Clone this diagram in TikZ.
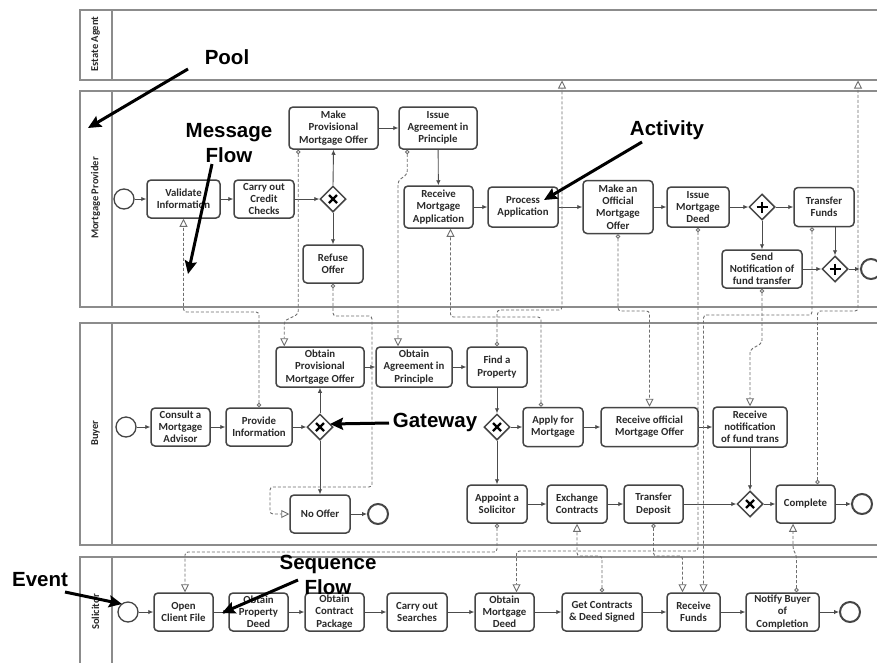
\documentclass[tikz,border=0pt]{standalone}
\usepackage{fontspec}
\setmainfont{Carlito}
\newfontfamily\calloutfont{Liberation Sans}
\usetikzlibrary{arrows.meta,shapes.geometric,calc}

\definecolor{taskline}{HTML}{454545}
\definecolor{tasktext}{HTML}{2A2A2A}
\definecolor{seqline}{HTML}{4C4C4C}
\definecolor{msgline}{HTML}{6E6E6E}
\definecolor{poolline}{HTML}{8C8C8C}

\tikzset{
  pool/.style={draw=poolline, line width=1.5pt, inner sep=0pt, anchor=north west},
  poolsep/.style={draw=poolline, line width=1.5pt},
  poollabel/.style={rotate=90, font=\fontsize{10.5}{12}\selectfont\bfseries, text=tasktext, inner sep=0pt},
  task/.style={draw=taskline, line width=1.5pt, rounded corners=4pt, fill=white,
    font=\fontsize{10.8}{12.2}\selectfont\bfseries, text=tasktext, align=center, inner sep=0pt},
  gateway/.style={diamond, draw=taskline, line width=1.5pt, fill=white, aspect=1,
    minimum width=26pt, minimum height=26pt, inner sep=0pt},
  xgate/.style={gateway, path picture={
      \draw[line width=2.4pt, black]
        ([shift={(-4,-4)}]path picture bounding box.center) -- ([shift={(4,4)}]path picture bounding box.center)
        ([shift={(-4,4)}]path picture bounding box.center) -- ([shift={(4,-4)}]path picture bounding box.center);}},
  pgate/.style={gateway, path picture={
      \draw[line width=2.6pt, black]
        ([shift={(-5.5,0)}]path picture bounding box.center) -- ([shift={(5.5,0)}]path picture bounding box.center)
        ([shift={(0,-5.5)}]path picture bounding box.center) -- ([shift={(0,5.5)}]path picture bounding box.center);}},
  startev/.style={circle, draw=taskline, line width=1.3pt, fill=white, minimum size=20pt, inner sep=0pt},
  endev/.style={circle, draw=taskline, line width=2pt, fill=white, minimum size=20pt, inner sep=0pt},
  seq/.style={draw=seqline, line width=0.9pt, -{Latex[length=5pt,width=4.5pt]}},
  msg/.style={draw=msgline, line width=0.9pt, dash pattern=on 3pt off 2pt, rounded corners=3pt,
      {Circle[open,length=4.5pt,width=4.5pt]}-{Triangle[open,length=8pt,width=8pt]}},
  callout/.style={font=\calloutfont\bfseries\fontsize{20.5}{25.5}\selectfont, text=black, align=center, inner sep=0pt},
  pointer/.style={line width=3pt, black, -{Stealth[length=13pt,width=12pt,inset=2pt]}},
}

\begin{document}
\begin{tikzpicture}[x=1pt,y=-1pt]
\useasboundingbox (0,0) rectangle (877,662);
\clip (0,0) rectangle (877,662);
\fill[white] (0,0) rectangle (877,662);

% ---------- pools ----------
\node[pool, minimum width=830pt, minimum height=70pt]  (eapool) at (79,9) {};
\node[pool, minimum width=830pt, minimum height=216pt] (mppool) at (79,90) {};
\node[pool, minimum width=830pt, minimum height=222pt] (bpool)  at (79,322) {};
\node[pool, minimum width=830pt, minimum height=160pt] (spool)  at (79,556) {};
\draw[poolsep] (eapool.north west -| 112,0) -- (eapool.south west -| 112,0);
\draw[poolsep] (mppool.north west -| 112,0) -- (mppool.south west -| 112,0);
\draw[poolsep] (bpool.north west -| 112,0) -- (bpool.south west -| 112,0);
\draw[poolsep] (spool.north west -| 112,0) -- (spool.south west -| 112,0);
\node[poollabel] (ealab) at (95.5,44)  {Estate Agent};
\node[poollabel] (mplab) at (95.5,198) {Mortgage Provider};
\node[poollabel] (blab)  at (95.5,433) {Buyer};
\node[poollabel] (slab)  at (95.5,612) {Solicitor};

% ---------- Mortgage Provider ----------
\node[startev] (mpstart) at (124,199) {};
\node[task, minimum width=73pt, minimum height=38pt] (valid)   at (183.5,199) {Validate\\Information};
\node[task, minimum width=60pt, minimum height=38pt] (credit)  at (264,199)   {Carry out\\Credit\\Checks};
\node[xgate] (mpgw) at (333,199) {};
\node[task, minimum width=60pt, minimum height=38pt] (refuse)  at (333,264)   {Refuse\\Offer};
\node[task, minimum width=89pt, minimum height=42pt] (mkprov)  at (333.5,128) {Make\\Provisional\\Mortgage Offer};
\node[task, minimum width=78pt, minimum height=42pt] (issagr)  at (438,128)   {Issue\\Agreement in\\Principle};
\node[task, minimum width=69pt, minimum height=42pt] (rcvapp)  at (438.5,207) {Receive\\Mortgage\\Application};
\node[task, minimum width=70pt, minimum height=40pt] (procapp) at (523,207)   {Process\\Application};
\node[task, minimum width=70pt, minimum height=53pt] (mkoff)   at (618,207)   {Make an\\Official\\Mortgage\\Offer};
\node[task, minimum width=62pt, minimum height=40pt] (issdeed) at (698,207)   {Issue\\Mortgage\\Deed};
\node[pgate] (mppar1) at (762,207) {};
\node[task, minimum width=60pt, minimum height=39pt] (trfunds) at (824,207)   {Transfer\\Funds};
\node[task, minimum width=80pt, minimum height=38pt] (sendn)   at (762,269)   {Send\\Notification of\\fund transfer};
\node[pgate] (mppar2) at (835,269) {};
\node[endev] (mpend) at (871,269) {};

% ---------- Buyer ----------
\node[startev] (bstart) at (126,427) {};
\node[task, minimum width=59pt, minimum height=38pt] (consult)  at (180.5,427) {Consult a\\Mortgage\\Advisor};
\node[task, minimum width=66pt, minimum height=38pt] (provinfo) at (259,427)   {Provide\\Information};
\node[xgate] (bgw1) at (320,427) {};
\node[task, minimum width=88pt, minimum height=40pt] (obprov)   at (320,367)   {Obtain\\Provisional\\Mortgage Offer};
\node[task, minimum width=60pt, minimum height=38pt] (nooffer)  at (320,514)   {No Offer};
\node[endev] (bend1) at (378,514) {};
\node[task, minimum width=76pt, minimum height=40pt] (obagr)    at (414,367)   {Obtain\\Agreement in\\Principle};
\node[task, minimum width=60pt, minimum height=40pt] (findp)    at (497,367)   {Find a\\Property};
\node[xgate] (bgw2) at (497,427) {};
\node[task, minimum width=60pt, minimum height=39pt] (applym)   at (553,427)   {Apply for\\Mortgage};
\node[task, minimum width=97pt, minimum height=39pt] (rcvoff)   at (649.5,427) {Receive official\\Mortgage Offer};
\node[task, minimum width=74pt, minimum height=40pt] (rcvnot)   at (750,427)   {Receive\\notification\\of fund trans};
\node[task, minimum width=60pt, minimum height=38pt] (appoint)  at (497,504)   {Appoint a\\Solicitor};
\node[task, minimum width=60pt, minimum height=38pt] (exch)     at (577,504)   {Exchange\\Contracts};
\node[task, minimum width=59pt, minimum height=38pt] (trdep)    at (653.5,504) {Transfer\\Deposit};
\node[xgate] (bgw3) at (750,504) {};
\node[task, minimum width=59pt, minimum height=38pt] (complete) at (805.5,504) {Complete};
\node[endev] (bend2) at (862,504) {};

% ---------- Solicitor ----------
\node[startev] (sstart) at (128,612) {};
\node[task, minimum width=59pt, minimum height=38pt] (openf)    at (183.5,612) {Open\\Client File};
\node[task, minimum width=59pt, minimum height=38pt] (obpdeed)  at (258.5,612) {Obtain\\Property\\Deed};
\node[task, minimum width=59pt, minimum height=38pt] (obcpack)  at (334.5,612) {Obtain\\Contract\\Package};
\node[task, minimum width=60pt, minimum height=38pt] (searches) at (417,612)   {Carry out\\Searches};
\node[task, minimum width=59pt, minimum height=38pt] (obmdeed)  at (504.5,612) {Obtain\\Mortgage\\Deed};
\node[task, minimum width=80pt, minimum height=38pt] (getc)     at (602,612)   {Get Contracts\\\& Deed Signed};
\node[task, minimum width=53pt, minimum height=38pt] (rfunds)   at (693.5,612) {Receive\\Funds};
\node[task, minimum width=73pt, minimum height=38pt] (notify)   at (782.5,612) {Notify Buyer\\of\\Completion};
\node[endev] (send) at (850,612) {};

% ---------- sequence flows ----------
\draw[seq] (mpstart.east) -- (valid.west);
\draw[seq] (valid) -- (credit);
\draw[seq] (credit) -- (mpgw.west);
\draw[seq] (mpgw.north) -- (mkprov.south);
\draw[seq] (mpgw.south) -- (refuse.north);
\draw[seq] (mkprov) -- (issagr);
\draw[seq] (issagr) -- (rcvapp);
\draw[seq] (rcvapp) -- (procapp);
\draw[seq] (procapp) -- (mkoff);
\draw[seq] (mkoff) -- (issdeed);
\draw[seq] (issdeed) -- (mppar1.west);
\draw[seq] (mppar1.east) -- (trfunds.west);
\draw[seq] (mppar1.south) -- (sendn.north);
\draw[seq] (sendn.east) -- (mppar2.west);
\draw[seq] (trfunds.south -| mppar2.north) -- (mppar2.north);
\draw[seq] (mppar2.east) -- (mpend.west);

\draw[seq] (bstart.east) -- (consult.west);
\draw[seq] (consult) -- (provinfo);
\draw[seq] (provinfo) -- (bgw1.west);
\draw[seq] (bgw1.north) -- (obprov.south);
\draw[seq] (bgw1.south) -- (nooffer.north);
\draw[seq] (nooffer) -- (bend1.west);
\draw[seq] (obprov) -- (obagr);
\draw[seq] (obagr) -- (findp);
\draw[seq] (findp.south) -- (bgw2.north);
\draw[seq] (bgw2.east) -- (applym.west);
\draw[seq] (bgw2.south) -- (appoint.north);
\draw[seq] (applym) -- (rcvoff);
\draw[seq] (rcvoff) -- (rcvnot);
\draw[seq] (rcvnot.south) -- (bgw3.north);
\draw[seq] (appoint) -- (exch);
\draw[seq] (exch) -- (trdep);
\draw[seq] (trdep) -- (bgw3.west);
\draw[seq] (bgw3.east) -- (complete.west);
\draw[seq] (complete) -- (bend2.west);

\draw[seq] (sstart.east) -- (openf.west);
\draw[seq] (openf) -- (obpdeed);
\draw[seq] (obpdeed) -- (obcpack);
\draw[seq] (obcpack) -- (searches);
\draw[seq] (searches) -- (obmdeed);
\draw[seq] (obmdeed) -- (getc);
\draw[seq] (getc) -- (rfunds);
\draw[seq] (rfunds) -- (notify);
\draw[seq] (notify) -- (send.west);

% ---------- message flows ----------
\coordinate (m2s)  at ([xshift=10pt]mkprov.south west);
\coordinate (m2e)  at ([xshift=9pt]obprov.north west);
\coordinate (m4s)  at ([xshift=9pt]issagr.south west);
\coordinate (m4e)  at ([xshift=-16pt]obagr.north);
\coordinate (m5s)  at ([xshift=-12pt]applym.north);
\coordinate (m5e)  at ([xshift=12pt]rcvapp.south);
\coordinate (m8e)  at ([xshift=12pt]obmdeed.north);
\coordinate (m9s)  at ([xshift=-12pt]trfunds.south);
\coordinate (m9e)  at ([xshift=10pt]rfunds.north);
\coordinate (m11e) at ([xshift=-11pt]rfunds.north);
\coordinate (m13s) at ([xshift=14pt]notify.north);
\coordinate (m13e) at ([xshift=-12.5pt]complete.south);
\coordinate (m14s) at ([xshift=12pt]complete.north);
\coordinate (m15e) at ([xshift=1.5pt]openf.north);
\coordinate (eain1) at (eapool.south -| 562,0);
\coordinate (eain2) at (eapool.south -| 858,0);

\draw[msg] (provinfo.north) |- (valid.south |- 0,312) -- (valid.south);
\draw[msg] (m2s) -- (m2s |- 0,314) -- (m2e |- 0,321) -- (m2e);
\draw[msg] (refuse.south) |- (372,316) -- (372,487) -| (nooffer.west -| 270,0) -- (nooffer.west);
\draw[msg] (m4s) -- (m4s |- 0,174) -- (m4e |- 0,181) -- (m4e);
\draw[msg] (m5s) |- (m5e |- 0,317) -- (m5e);
\draw[msg] (findp.north) |- (eain1 |- 0,310) -- (eain1);
\draw[msg] (mkoff.south) |- (rcvoff.north |- 0,311) -- (rcvoff.north);
\draw[msg] (issdeed.south) |- (m8e |- 0,551) -- (m8e);
\draw[msg] (m9s) |- (m9e |- 0,315) -- (m9e);
\draw[msg] (sendn.south) -- (sendn.south |- 0,343) -- (rcvnot.north |- 0,350) -- (rcvnot.north);
\draw[msg] (trdep.south) |- (m11e |- 0,556) -- (m11e);
\draw[msg] (getc.north) |- (exch.south |- 0,556) -- (exch.south);
\draw[msg] (m13s) -- (m13s |- 0,556) -- (m13e |- 0,549) -- (m13e);
\draw[msg] (m14s) |- (eain2 |- 0,311) -- (eain2);
\draw[msg] (appoint.south) |- (m15e |- 0,552) -- (m15e);

% ---------- callouts ----------
\node[callout] (tpool) at (227,57)  {Pool};
\node[callout] (tmsg)  at (229,143) {Message\\Flow};
\node[callout] (tact)  at (667,130) {Activity};
\node[callout] (tgw)   at (435,422) {Gateway};
\node[callout] (tev)   at (40,580)  {Event};
\node[callout] (tseq)  at (328,575) {Sequence\\Flow};

\coordinate (ppool1) at (188,69);  \coordinate (ppool2) at (88,128);
\coordinate (pmsg1)  at (212,164); \coordinate (pmsg2)  at (188,274);
\coordinate (pact1)  at (642,142); \coordinate (pact2)  at (544,200);
\coordinate (pgw1)   at (389,423); \coordinate (pgw2)   at (330,424);
\coordinate (pev1)   at (65,592);  \coordinate (pev2)   at (122,604);
\coordinate (pseq1)  at (298,580); \coordinate (pseq2)  at (222,613);

\draw[pointer] (ppool1) -- (ppool2);
\draw[pointer] (pmsg1) -- (pmsg2);
\draw[pointer] (pact1) -- (pact2);
\draw[pointer] (pgw1) -- (pgw2);
\draw[pointer] (pev1) -- (pev2);
\draw[pointer] (pseq1) -- (pseq2);
\end{tikzpicture}
\end{document}
